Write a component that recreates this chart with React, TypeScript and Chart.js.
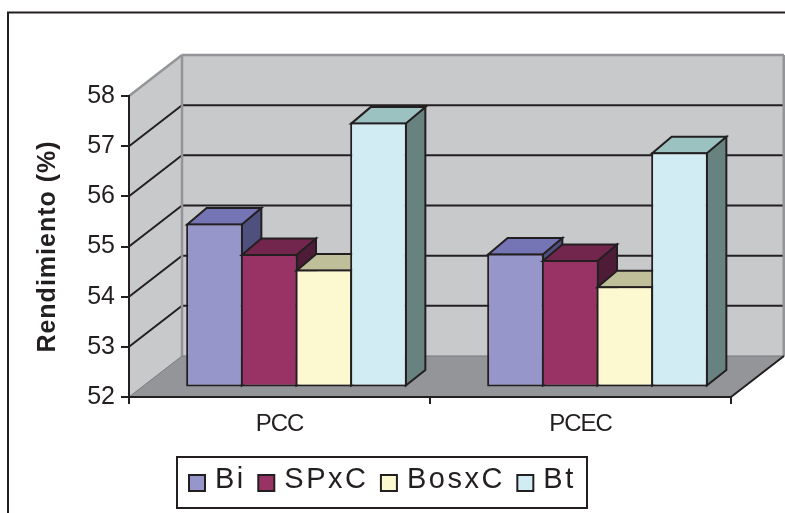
import React, { useEffect, useRef } from "react";
import { Chart, registerables } from "chart.js";

Chart.register(...registerables);

const categories = ["PCC", "PCEC"];
const seriesNames = ["Bi", "SPxC", "BosxC", "Bt"];
const biValues = [55.25, 54.65];
const spxcValues = [54.64, 54.52];
const bosxcValues = [54.33, 54.0];
const btValues = [57.26, 56.67];
const allValues = [biValues, spxcValues, bosxcValues, btValues];

const frontColors = ["#9696ca", "#993366", "#fcf8cf", "#d2ecf3"];
const topColors = ["#7575b6", "#73264d", "#bfbf99", "#9bc2c0"];
const sideColors = ["#50507f", "#4f1c38", "#7f7f66", "#688280"];

const INK = "#231f20";
const WALL = "#c8c9cb";
const FLOOR = "#939598";
const SANS = "'Liberation Sans', Arial, sans-serif";

// Projection of the box: wall depth and bar depth, in pixels.
const WALL_DX = 53;
const WALL_DY = -41;
const BAR_DX = 19.5;
const BAR_DY = -15.5;
// The bars stand part-way into the floor, so their own scales are shifted.
const BAR_SHIFT_X = 17 / 301;
const BAR_SHIFT_Y = 10.5 / 50.17;

function polygon(ctx: CanvasRenderingContext2D, pts: number[][], fill: string | null, stroke: string | null, width = 2) {
  ctx.beginPath();
  pts.forEach(([x, y], i) => (i ? ctx.lineTo(x, y) : ctx.moveTo(x, y)));
  ctx.closePath();
  if (fill) {
    ctx.fillStyle = fill;
    ctx.fill();
  }
  if (stroke) {
    ctx.strokeStyle = stroke;
    ctx.lineWidth = width;
    ctx.stroke();
  }
}

function line(ctx: CanvasRenderingContext2D, x1: number, y1: number, x2: number, y2: number, color: string, width = 2) {
  ctx.beginPath();
  ctx.moveTo(x1, y1);
  ctx.lineTo(x2, y2);
  ctx.strokeStyle = color;
  ctx.lineWidth = width;
  ctx.stroke();
}

// Runs one of a scale's text-drawing steps with adjusted tracking.
function withTracking(scale: any, method: string, spacing: string) {
  const original = scale[method];
  scale[method] = function (...args: any[]) {
    const { ctx } = scale;
    ctx.save();
    ctx.letterSpacing = spacing;
    original.apply(scale, args);
    ctx.restore();
  };
}

// Outer frame, side wall, back wall, floor and their grid lines.
const roomPlugin = {
  id: "room",
  beforeDraw(chart: any) {
    const { ctx, chartArea: a, scales } = chart;
    const y = scales.y;
    ctx.save();
    ctx.lineJoin = "miter";

    ctx.beginPath();
    ctx.moveTo(8, 520);
    ctx.lineTo(8, 12.5);
    ctx.lineTo(790, 12.5);
    ctx.strokeStyle = INK;
    ctx.lineWidth = 2;
    ctx.stroke();

    const bl = a.left + WALL_DX;
    const br = a.right + WALL_DX;
    const bt = a.top + WALL_DY;
    const bb = a.bottom + WALL_DY;

    polygon(ctx, [[bl, bt], [br, bt], [br, bb], [bl, bb]], WALL, null);
    polygon(ctx, [[a.left, a.top], [bl, bt], [bl, bb], [a.left, a.bottom]], WALL, null);
    polygon(ctx, [[a.left, a.bottom], [bl, bb], [br, bb], [a.right, a.bottom]], FLOOR, null);

    y.ticks.forEach((t: any) => {
      const py = y.getPixelForValue(t.value);
      if (t.value === y.min || t.value === y.max) return;
      line(ctx, a.left, py, bl, py + WALL_DY, INK);
      line(ctx, bl, py + WALL_DY, br, py + WALL_DY, INK);
    });

    line(ctx, a.left, a.top, bl, bt, FLOOR, 2.5);
    line(ctx, bl, bt, br, bt, FLOOR, 2.5);
    line(ctx, bl, bt, bl, bb, FLOOR, 2.5);
    line(ctx, br, bt, br, bb, FLOOR, 3);
    line(ctx, a.left, a.bottom, bl, bb, "#77787b", 1);
    line(ctx, bl, bb, br, bb, "#77787b", 1);
    line(ctx, a.right, a.bottom, br, bb, INK);
    ctx.restore();
  },
  // Bars go from the first series to the last, so each front face covers
  // the side of the bar to its left.
  beforeDatasetsDraw(chart: any) {
    const { ctx } = chart;
    ctx.save();
    ctx.lineJoin = "miter";
    chart.data.datasets.forEach((_: any, di: number) => {
      chart.getDatasetMeta(di).data.forEach((el: any) => {
        const { x, y, base, width } = el.getProps(["x", "y", "base", "width"], true);
        const l = x - width / 2 + 1;
        const r = x + width / 2 - 1;
        polygon(ctx, [[r, y], [r + BAR_DX, y + BAR_DY], [r + BAR_DX, base + BAR_DY - 1], [r, base - 1]], sideColors[di], INK);
        polygon(ctx, [[l, y + 1], [l + BAR_DX, y + BAR_DY], [r + BAR_DX, y + BAR_DY], [r, y + 1]], topColors[di], INK);
        el.draw(ctx);
      });
    });
    ctx.restore();
    return false;
  },
  // Boxed legend row with spaced lettering.
  afterDraw(chart: any) {
    const { ctx } = chart;
    ctx.save();
    ctx.strokeStyle = INK;
    ctx.lineWidth = 2;
    ctx.strokeRect(177, 457, 410, 51);
    ctx.font = `29px ${SANS}`;
    ctx.textBaseline = "alphabetic";
    (ctx as any).letterSpacing = "2.5px";
    let cursor = 189;
    chart.data.datasets.forEach((ds: any, di: number) => {
      ctx.fillStyle = frontColors[di];
      ctx.fillRect(cursor, 475, 16, 16);
      ctx.strokeRect(cursor, 475, 16, 16);
      const tx = cursor + 26;
      ctx.fillStyle = INK;
      ctx.fillText(ds.label, tx, 488);
      cursor = tx + ctx.measureText(ds.label).width + 12.5;
    });
    ctx.restore();
  },
};

export default function App() {
  const ref = useRef<HTMLCanvasElement>(null);

  useEffect(() => {
    const chart = new Chart(ref.current as HTMLCanvasElement, {
      type: "bar",
      data: {
        labels: categories,
        datasets: seriesNames.map((label, di) => ({
          label,
          data: allValues[di].map((y, i) => ({ x: i, y })),
          base: 52,
          xAxisID: "xBars",
          yAxisID: "yBars",
          backgroundColor: frontColors[di],
          borderColor: INK,
          borderWidth: 2,
          borderSkipped: false,
          inflateAmount: 0,
          categoryPercentage: 0.7265,
          barPercentage: 1.037,
        })),
      },
      options: {
        animation: false,
        responsive: false,
        events: [],
        layout: { padding: { left: 33, top: 96, right: 54, bottom: 60 } },
        plugins: { legend: { display: false }, tooltip: { enabled: false } },
        scales: {
          x: {
            type: "category",
            offset: true,
            grid: { offset: true, drawOnChartArea: false, color: INK, lineWidth: 2, tickLength: 7 },
            border: { color: INK, width: 2 },
            ticks: { color: INK, font: { family: SANS, size: 24 }, padding: 6, maxRotation: 0 },
            afterFit(s: any) {
              s.height = 56;
            },
            afterUpdate(s: any) {
              withTracking(s, "drawLabels", "-1px");
            },
          },
          y: {
            type: "linear",
            min: 52,
            max: 58,
            grid: { drawOnChartArea: false, color: INK, lineWidth: 2, tickLength: 8 },
            border: { color: INK, width: 2 },
            ticks: { stepSize: 1, color: INK, font: { family: SANS, size: 25 }, padding: 6 },
            title: {
              display: true,
              text: "Rendimiento (%)",
              color: INK,
              font: { family: SANS, size: 25, weight: "bold" },
              padding: 0,
            },
            afterFit(s: any) {
              s.width = 96;
            },
            afterUpdate(s: any) {
              withTracking(s, "drawTitle", "1px");
            },
          },
          xBars: {
            type: "linear",
            axis: "x",
            position: "bottom",
            display: false,
            offset: false,
            min: -0.5 - BAR_SHIFT_X,
            max: 1.5 - BAR_SHIFT_X,
            afterBuildTicks(s: any) {
              s.ticks = categories.map((_, i) => ({ value: i }));
            },
          },
          yBars: {
            type: "linear",
            axis: "y",
            position: "left",
            display: false,
            min: 52 - BAR_SHIFT_Y,
            max: 58 - BAR_SHIFT_Y,
          },
        },
      } as any,
      plugins: [roomPlugin],
    });
    return () => chart.destroy();
  }, []);

  return (
    <div style={{ position: "absolute", left: 0, top: 0, width: 785, height: 513, overflow: "hidden" }}>
      <canvas ref={ref} width={785} height={513} style={{ display: "block" }} />
    </div>
  );
}
